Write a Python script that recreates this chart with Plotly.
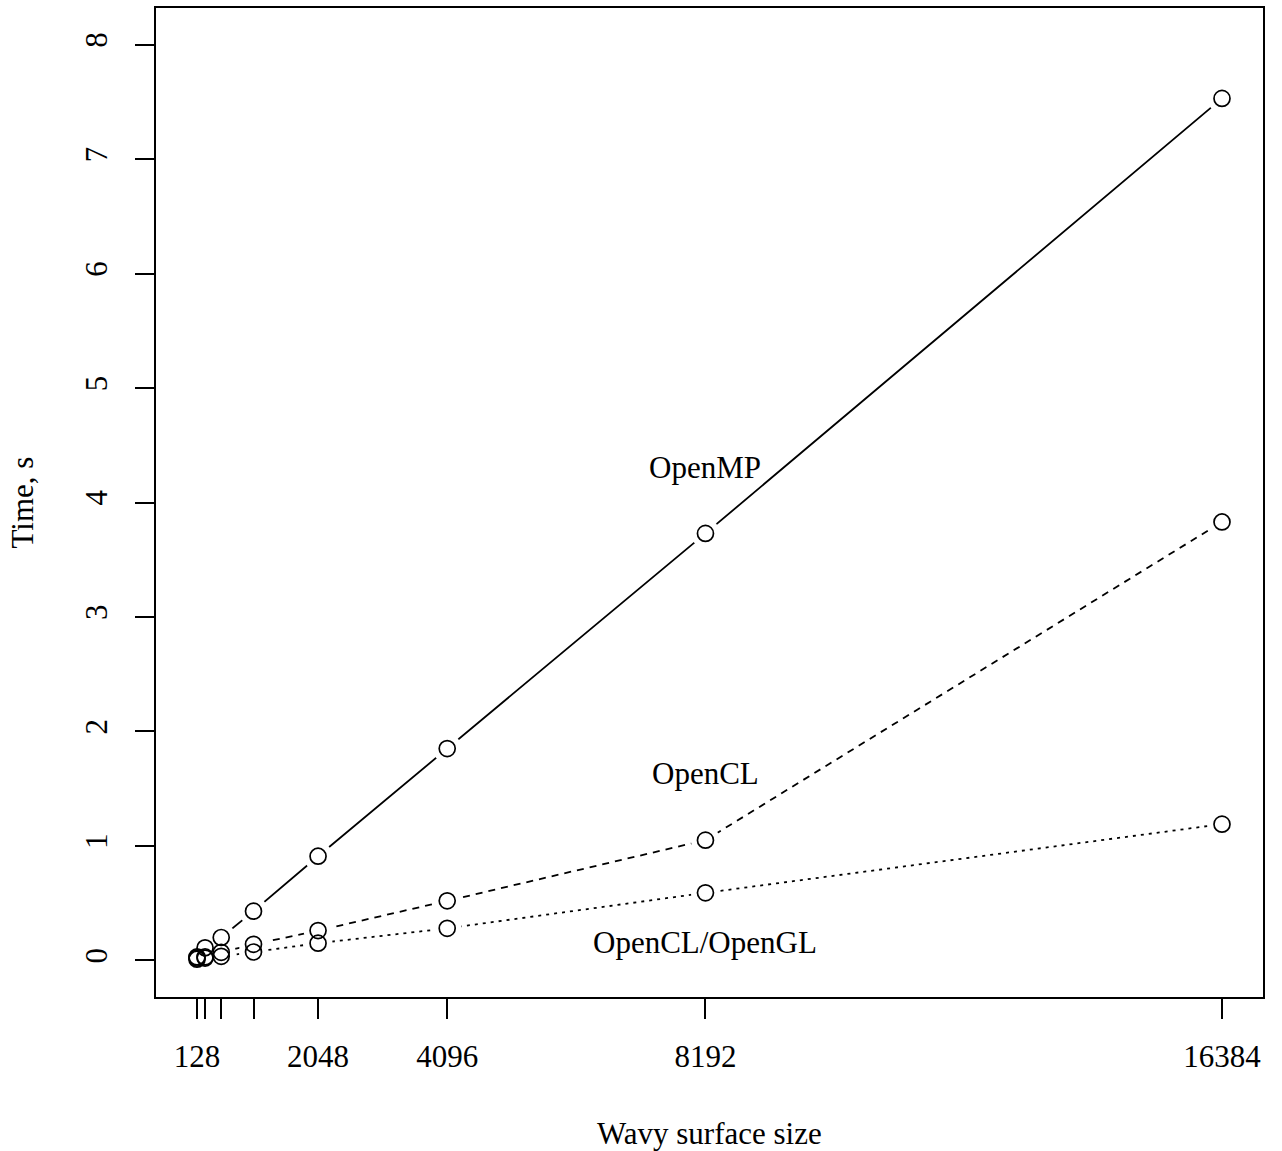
import plotly.graph_objects as go

# Wavy surface sizes and timings (seconds)
sizes = [128, 256, 512, 1024, 2048, 4096, 8192, 16384]
openmp = [0.03, 0.11, 0.20, 0.43, 0.91, 1.85, 3.73, 7.53]
opencl = [0.02, 0.03, 0.07, 0.14, 0.26, 0.52, 1.05, 3.83]
opencl_gl = [0.01, 0.02, 0.035, 0.073, 0.15, 0.28, 0.59, 1.19]

x_tick_labels = ["128", "", "", "", "2048", "4096", "8192", "16384"]
y_ticks = [0, 1, 2, 3, 4, 5, 6, 7, 8]

series_labels = ["OpenMP", "OpenCL", "OpenCL/OpenGL"]
label_x = [8192, 8192, 8192]
label_y = [4.31, 1.63, 0.16]

FONT = "Liberation Serif, Times New Roman, serif"
FS = 31

fig = go.Figure()

series = [(openmp, "solid"), (opencl, "7px,6px"), (opencl_gl, "3px,5px")]

for ys, dash in series:
    # connecting line
    fig.add_trace(go.Scatter(x=sizes, y=ys, mode="lines",
                             line=dict(color="black", width=1.8, dash=dash),
                             showlegend=False, hoverinfo="skip"))
for ys, dash in series:
    # white halo so lines stop short of the points
    fig.add_trace(go.Scatter(x=sizes, y=ys, mode="markers",
                             marker=dict(size=29, color="white", line=dict(width=0)),
                             showlegend=False, hoverinfo="skip"))
for ys, dash in series:
    fig.add_trace(go.Scatter(x=sizes, y=ys, mode="markers",
                             marker=dict(size=16, color="rgba(255,255,255,0)", symbol="circle",
                                         line=dict(color="black", width=1.7)),
                             showlegend=False))

for txt, lx, ly in zip(series_labels, label_x, label_y):
    fig.add_annotation(x=lx, y=ly, text=txt, showarrow=False,
                       font=dict(family=FONT, size=FS, color="black"),
                       xanchor="center", yanchor="middle")

# axis titles
fig.add_annotation(x=0.5, y=0, xref="paper", yref="paper", yshift=-136,
                   text="Wavy surface size", showarrow=False,
                   font=dict(family=FONT, size=FS, color="black"),
                   xanchor="center", yanchor="middle")
fig.add_annotation(x=0, y=0.5, xref="paper", yref="paper", xshift=-134,
                   text="Time, s", showarrow=False, textangle=-90,
                   font=dict(family=FONT, size=FS, color="black"),
                   xanchor="center", yanchor="middle")

x_pad = 0.04 * (sizes[-1] - sizes[0])
fig.update_xaxes(range=[sizes[0] - x_pad, sizes[-1] + x_pad],
                 tickmode="array", tickvals=sizes, ticktext=x_tick_labels,
                 ticks="outside", ticklen=20, tickwidth=1.8, tickcolor="black",
                 showline=True, linecolor="black", linewidth=1.8, mirror=True,
                 showgrid=False, zeroline=False, ticklabelstandoff=11,
                 tickfont=dict(family=FONT, size=FS, color="black"))
fig.update_yaxes(range=[-0.32, 8.32],
                 tickmode="array", tickvals=y_ticks, tickangle=-90,
                 ticks="outside", ticklen=19, tickwidth=1.8, tickcolor="black",
                 showline=True, linecolor="black", linewidth=1.8, mirror=True,
                 showgrid=False, zeroline=False, ticklabelstandoff=16,
                 tickfont=dict(family=FONT, size=FS, color="black"))

fig.update_layout(width=1282, height=1151,
                  margin=dict(l=156, r=19, t=6, b=154),
                  plot_bgcolor="white", paper_bgcolor="white")

fig.write_html("out.html")
